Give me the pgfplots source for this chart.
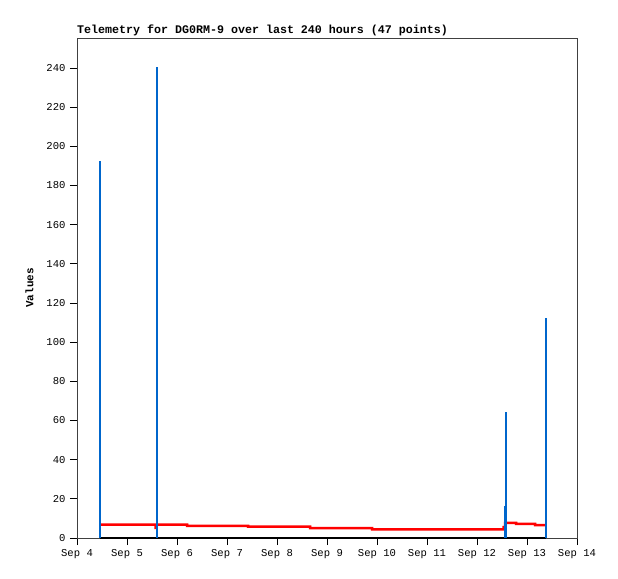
\documentclass[border=0pt]{standalone}
\usepackage{pgfplots}
\pgfplotsset{compat=1.18}
\usepackage{fontspec}
\setmainfont{Liberation Mono}
\setmonofont{Liberation Mono}
\definecolor{gpblue}{RGB}{0,102,204}
\definecolor{gpred}{RGB}{255,0,0}
\definecolor{border}{RGB}{64,64,64}
\begin{document}
\begin{tikzpicture}
\useasboundingbox (-77bp,-41bp) rectangle (541bp,538bp);
\begin{axis}[
    at={(0,0)}, anchor=south west,
    scale only axis,
    width=500bp, height=500bp,
    xmin=4, xmax=14,
    ymin=0, ymax=255.3,
    xtick={4,5,...,14},
    xticklabels={Sep 4,Sep 5,Sep 6,Sep 7,Sep 8,Sep 9,Sep 10,Sep 11,Sep 12,Sep 13,Sep 14},
    ytick={0,20,...,240},
    xtick pos=left, ytick pos=left,
    tick align=outside,
    major tick length=7bp,
    tick style={black, line width=0.8bp},
    axis line style={border, line width=0.8bp},
    tick label style={font=\fontsize{10.6}{12}\selectfont},
    /pgf/number format/assume math mode=true,
    xticklabel style={yshift=-1bp},
    yticklabel style={xshift=-1bp},
    title={Telemetry for DG0RM-9 over last 240 hours (47 points)},
    title style={font=\bfseries\fontsize{11.7}{13}\selectfont, anchor=base west, at={(0,1)}, yshift=-1bp, inner sep=0pt},
    ylabel={Values},
    ylabel style={font=\bfseries\fontsize{11}{12}\selectfont, at={(-40bp,0.5)}, anchor=south},
]
% black series at zero
\addplot[black, line width=2.5bp] coordinates {(4.46,0) (13.38,0)};
% red series
\addplot[gpred, line width=2.5bp, sharp plot] coordinates {
    (4.46,6.8) (5.57,6.8) (5.575,4.6) (5.58,6.8) (6.20,6.8)
    (6.20,6.2) (7.42,6.2)
    (7.42,5.8) (8.66,5.8)
    (8.66,5.1) (9.90,5.1)
    (9.90,4.4) (12.53,4.4)
    (12.53,5.6) (12.56,5.6)
    (12.56,7.7) (12.78,7.7)
    (12.78,7.2) (13.16,7.2)
    (13.16,6.6) (13.36,6.6)
};
% blue impulses
\addplot[gpblue, line width=2.5bp, ycomb, mark=none] coordinates {
    (4.46,192.5) (5.60,240.5) (12.555,16.5) (12.58,64.3) (13.38,112.3)
};
\end{axis}
\end{tikzpicture}
\end{document}
